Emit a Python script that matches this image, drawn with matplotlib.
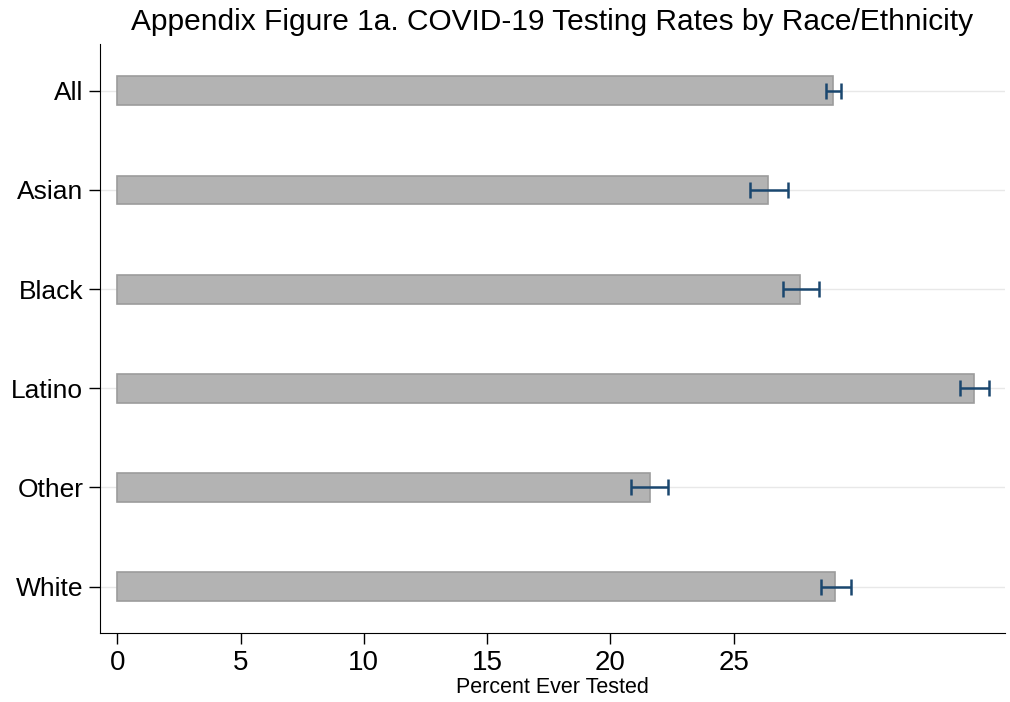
import numpy as np
import matplotlib.pyplot as plt

plt.rcParams['font.family'] = ['Liberation Sans', 'DejaVu Sans']

groups = ["All", "Asian", "Black", "Latino", "Other", "White"]
pct_tested = [29.04, 26.41, 27.70, 34.76, 21.59, 29.12]
ci_low = [28.74, 25.67, 26.98, 34.16, 20.84, 28.53]
ci_high = [29.36, 27.21, 28.47, 35.37, 22.32, 29.76]
xticks = [0, 5, 10, 15, 20, 25]

fig = plt.figure(figsize=(10.1, 7.02), dpi=100)
ax = fig.add_axes([0.099, 0.098, 0.896, 0.839])

y = np.arange(len(groups))
ax.barh(y, pct_tested, height=0.29, color='#b3b3b3', edgecolor='#9c9c9c',
        linewidth=1.2, zorder=2)

lo = np.array(ci_low)
hi = np.array(ci_high)
mid = (lo + hi) / 2
ax.errorbar(mid, y, xerr=(hi - lo) / 2, fmt='none', ecolor='#1a476f',
            elinewidth=1.8, capsize=6, capthick=1.8, zorder=3)

for yy in y:
    ax.axhline(yy, color='#e8e8e8', linewidth=1, zorder=1)

ax.set_yticks(y)
ax.set_yticklabels(groups, fontsize=19)
ax.set_xticks(xticks)
ax.set_xticklabels([str(t) for t in xticks], fontsize=20)
ax.set_xlim(-0.7, 36.0)
ax.set_ylim(5.47, -0.47)

ax.spines['top'].set_visible(False)
ax.spines['right'].set_visible(False)
ax.tick_params(axis='both', length=8, width=1, pad=4)

ax.set_xlabel("Percent Ever Tested", fontsize=15.5, labelpad=1)
ax.set_title("Appendix Figure 1a. COVID-19 Testing Rates by Race/Ethnicity",
             fontsize=21.5, pad=10)

fig.savefig("out.png", dpi=100)
